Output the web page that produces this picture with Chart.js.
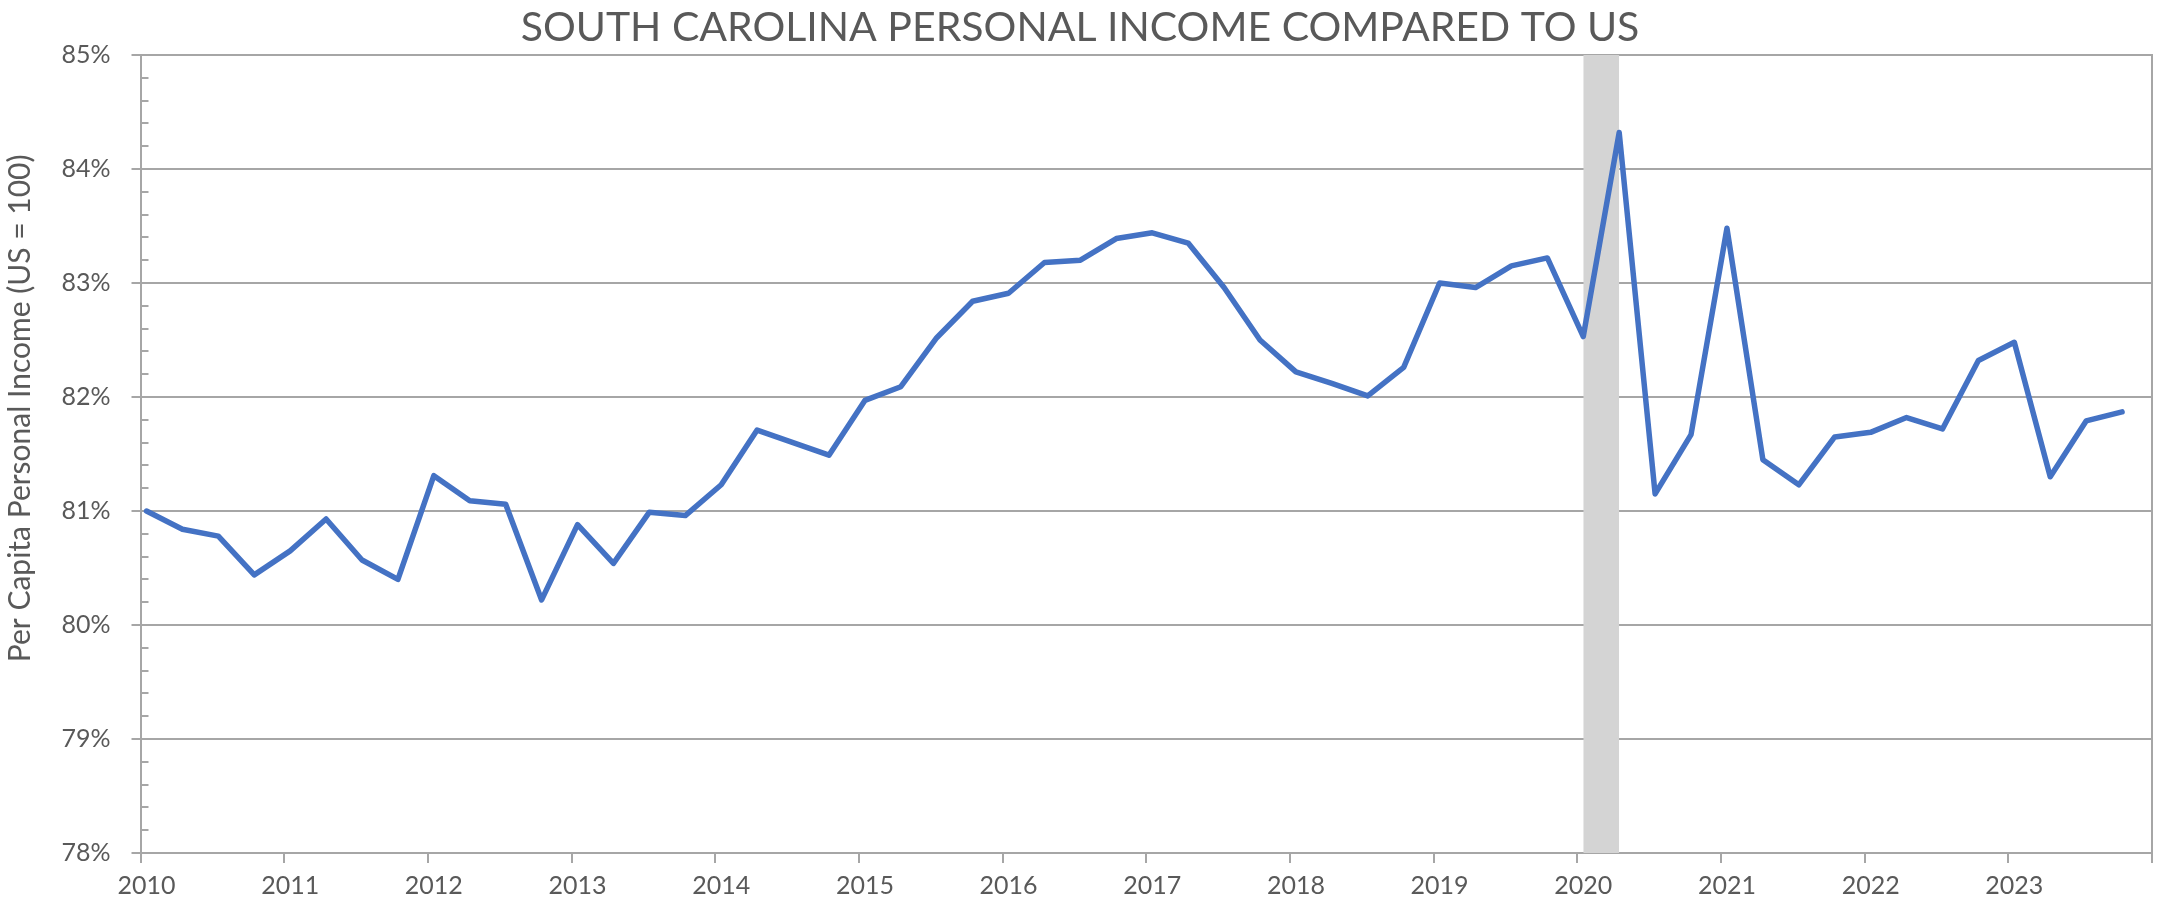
<!DOCTYPE html>
<html>
<head>
<meta charset="utf-8">
<title>South Carolina Personal Income Compared to US</title>
<script src="https://cdn.jsdelivr.net/npm/chart.js@4.4.1/dist/chart.umd.min.js"></script>
<style>
  html, body { margin: 0; padding: 0; background: #ffffff; }
  #wrap { width: 2160px; height: 907px; }
</style>
</head>
<body>
<div id="wrap"><canvas id="chart" width="2160" height="907"></canvas></div>
<script>
// ---- Data ----
const chartTitle = 'SOUTH CAROLINA PERSONAL INCOME COMPARED TO US';
const yAxisTitle = 'Per Capita Personal Income (US = 100)';

const quarters = [
  '2010Q1','2010Q2','2010Q3','2010Q4',
  '2011Q1','2011Q2','2011Q3','2011Q4',
  '2012Q1','2012Q2','2012Q3','2012Q4',
  '2013Q1','2013Q2','2013Q3','2013Q4',
  '2014Q1','2014Q2','2014Q3','2014Q4',
  '2015Q1','2015Q2','2015Q3','2015Q4',
  '2016Q1','2016Q2','2016Q3','2016Q4',
  '2017Q1','2017Q2','2017Q3','2017Q4',
  '2018Q1','2018Q2','2018Q3','2018Q4',
  '2019Q1','2019Q2','2019Q3','2019Q4',
  '2020Q1','2020Q2','2020Q3','2020Q4',
  '2021Q1','2021Q2','2021Q3','2021Q4',
  '2022Q1','2022Q2','2022Q3','2022Q4',
  '2023Q1','2023Q2','2023Q3','2023Q4'
];

// South Carolina per capita personal income as % of US
const scIncomePct = [
  81.00, 80.84, 80.78, 80.44,
  80.65, 80.93, 80.57, 80.40,
  81.31, 81.09, 81.06, 80.22,
  80.88, 80.54, 80.99, 80.96,
  81.23, 81.71, 81.60, 81.49,
  81.97, 82.09, 82.52, 82.84,
  82.91, 83.18, 83.20, 83.39,
  83.44, 83.35, 82.96, 82.50,
  82.22, 82.12, 82.01, 82.26,
  83.00, 82.96, 83.15, 83.22,
  82.53, 84.32, 81.15, 81.67,
  83.48, 81.45, 81.23, 81.65,
  81.69, 81.82, 81.72, 82.32,
  82.48, 81.30, 81.79, 81.87
];

// Recession shading (start and end quarter)
const recessionQuarters = ['2020Q1', '2020Q2'];

// Axis ticks
const yearTicks = [2010, 2011, 2012, 2013, 2014, 2015, 2016, 2017, 2018, 2019, 2020, 2021, 2022, 2023];
const axisEndYear = 2024;
const yTicks = [78, 79, 80, 81, 82, 83, 84, 85];
const yMinorStep = 0.2;

// quarter label -> position on a date-like year axis (mid-month of the quarter's first month)
function quarterToX(label) {
  const year = parseInt(label.slice(0, 4), 10);
  const q = parseInt(label.slice(5), 10);
  return year + (q - 1) / 4 + 1 / 24;
}

const seriesPoints = quarters.map((q, i) => ({ x: quarterToX(q), y: scIncomePct[i] }));
const yMin = yTicks[0], yMax = yTicks[yTicks.length - 1];
const recessionPoints = recessionQuarters.map(q => ({ x: quarterToX(q), y: yMax }));

const TEXT = '#595959';
const GRID = '#A6A6A6';
const FONT = 'Lato, "Open Sans", sans-serif';

const extrasPlugin = {
  id: 'extras',
  afterDraw(chart) {
    const ctx = chart.ctx;
    const y = chart.scales.y;
    const area = chart.chartArea;
    ctx.save();
    // inward minor tick marks on the value axis
    ctx.strokeStyle = GRID;
    ctx.lineWidth = 2;
    const n = Math.round((yMax - yMin) / yMinorStep);
    for (let i = 1; i < n; i++) {
      const v = yMin + i * yMinorStep;
      if (Math.abs(v - Math.round(v)) < 1e-6) continue;
      const py = Math.round(y.getPixelForValue(v));
      ctx.beginPath();
      ctx.moveTo(area.left, py);
      ctx.lineTo(area.left + 8, py);
      ctx.stroke();
    }
    // value axis title
    ctx.fillStyle = TEXT;
    ctx.font = '30px ' + FONT;
    ctx.textAlign = 'center';
    ctx.textBaseline = 'middle';
    ctx.translate(20, y.getPixelForValue(81.9));
    ctx.rotate(-Math.PI / 2);
    ctx.fillText(yAxisTitle, 0, 0);
    ctx.restore();
  }
};

function build() {
  const ctx = document.getElementById('chart').getContext('2d');
  new Chart(ctx, {
    type: 'line',
    data: {
      datasets: [
        {
          label: 'South Carolina (% of US)',
          data: seriesPoints,
          borderColor: '#4472C4',
          borderWidth: 5.5,
          pointRadius: 0,
          tension: 0,
          fill: false,
          borderJoinStyle: 'round',
          borderCapStyle: 'round',
          order: 1
        },
        {
          label: 'Recession',
          data: recessionPoints,
          borderWidth: 0,
          borderColor: 'rgba(0,0,0,0)',
          backgroundColor: '#D4D4D4',
          pointRadius: 0,
          fill: 'start',
          order: 2
        }
      ]
    },
    options: {
      responsive: false,
      animation: false,
      devicePixelRatio: 1,
      layout: { padding: { left: 0, right: 0, top: 0, bottom: 0 } },
      plugins: {
        legend: { display: false },
        tooltip: { enabled: false },
        title: {
          display: true,
          text: chartTitle,
          color: TEXT,
          font: { family: FONT, size: 41, weight: 'normal', lineHeight: 1.2 },
          padding: { top: 3, bottom: 2.8 }
        }
      },
      scales: {
        x: {
          type: 'linear',
          min: yearTicks[0],
          max: axisEndYear,
          afterBuildTicks(scale) {
            scale.ticks = yearTicks.concat([axisEndYear]).map(v => ({ value: v }));
          },
          afterFit(scale) { scale.height = 54; },
          ticks: {
            autoSkip: false,
            maxRotation: 0,
            minRotation: 0,
            color: TEXT,
            font: { family: FONT, size: 25 },
            padding: 8,
            labelOffset: 6,
            callback: v => (yearTicks.includes(v) ? String(v) : '')
          },
          grid: {
            drawOnChartArea: false,
            drawTicks: true,
            tickLength: 10,
            color: GRID,
            lineWidth: 2
          },
          border: { display: true, color: GRID, width: 2 }
        },
        y: {
          type: 'linear',
          position: 'left',
          min: yMin,
          max: yMax,
          afterBuildTicks(scale) {
            scale.ticks = yTicks.map(v => ({ value: v }));
          },
          afterFit(scale) { scale.width = 140.5; },
          ticks: {
            color: TEXT,
            font: { family: FONT, size: 25 },
            padding: 21,
            callback: v => v + '%'
          },
          grid: {
            color: GRID,
            lineWidth: 2,
            drawTicks: true,
            tickLength: 9
          },
          border: { display: true, color: GRID, width: 2 }
        },
        y2: {
          type: 'linear',
          position: 'right',
          min: yMin,
          max: yMax,
          afterFit(scale) { scale.width = 3.4; },
          ticks: { display: false },
          grid: { display: false, drawOnChartArea: false, drawTicks: false },
          border: { display: true, color: GRID, width: 2 }
        }
      }
    },
    plugins: [extrasPlugin]
  });
}

if (document.fonts && document.fonts.load) {
  Promise.all([
    document.fonts.load('25px Lato'),
    document.fonts.load('30px Lato'),
    document.fonts.load('41px Lato')
  ]).then(build, build);
} else {
  build();
}
</script>
</body>
</html>
